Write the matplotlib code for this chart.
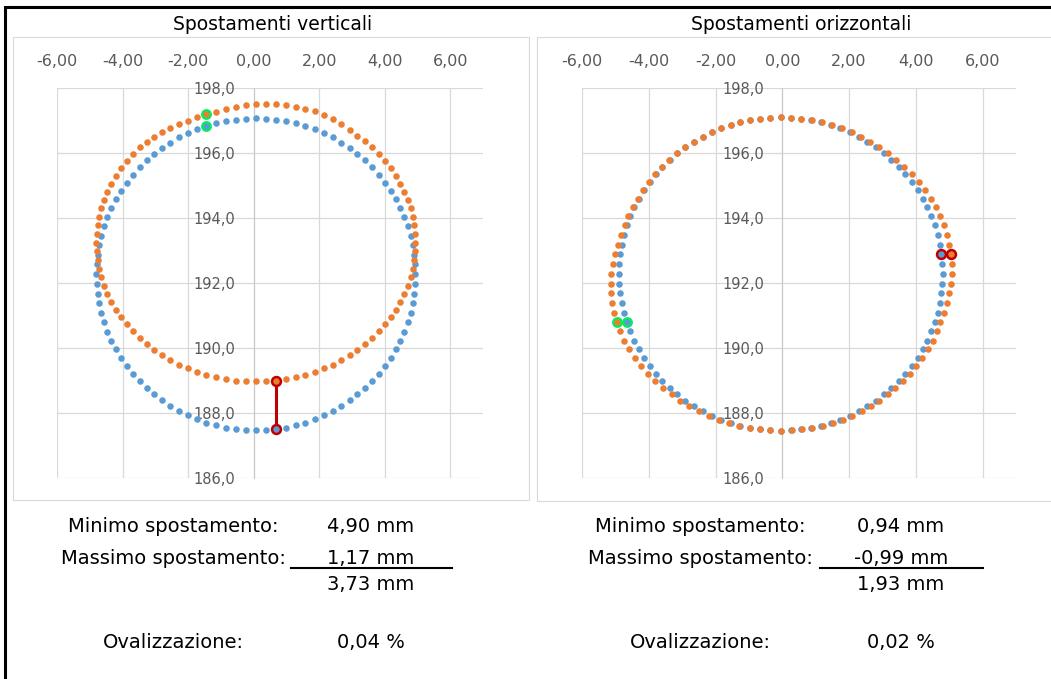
import matplotlib
matplotlib.use('Agg')
import matplotlib.pyplot as plt
from matplotlib.lines import Line2D
from matplotlib.patches import Rectangle

W, H = 1051, 679

# --- data ---
# vertical displacements: both series share x, orange moved along y
vert_x = [4.94, 4.93, 4.90, 4.85, 4.79, 4.70, 4.60, 4.48, 4.34, 4.18,
          4.01, 3.82, 3.62, 3.40, 3.17, 2.93, 2.68, 2.42, 2.14, 1.86,
          1.58, 1.28, 0.98, 0.68, 0.38, 0.07, -0.24, -0.54, -0.84, -1.14,
          -1.44, -1.72, -2.00, -2.28, -2.54, -2.79, -3.03, -3.26, -3.48, -3.68,
          -3.87, -4.04, -4.20, -4.34, -4.46, -4.56, -4.65, -4.71, -4.76, -4.79,
          -4.80, -4.79, -4.76, -4.71, -4.65, -4.56, -4.46, -4.34, -4.20, -4.04,
          -3.87, -3.68, -3.48, -3.26, -3.03, -2.79, -2.54, -2.28, -2.00, -1.72,
          -1.44, -1.14, -0.84, -0.54, -0.24, 0.07, 0.38, 0.68, 0.98, 1.28,
          1.58, 1.86, 2.14, 2.42, 2.68, 2.93, 3.17, 3.40, 3.62, 3.82,
          4.01, 4.18, 4.34, 4.48, 4.60, 4.70, 4.79, 4.85, 4.90, 4.93]
vert_y_blue = [192.27, 192.57, 192.87, 193.17, 193.46, 193.75, 194.04, 194.31, 194.58, 194.84,
               195.09, 195.33, 195.56, 195.77, 195.97, 196.15, 196.32, 196.48, 196.61, 196.73,
               196.84, 196.92, 196.99, 197.03, 197.06, 197.07, 197.06, 197.03, 196.99, 196.92,
               196.84, 196.73, 196.61, 196.48, 196.32, 196.15, 195.97, 195.77, 195.56, 195.33,
               195.09, 194.84, 194.58, 194.31, 194.04, 193.75, 193.46, 193.17, 192.87, 192.57,
               192.27, 191.97, 191.67, 191.37, 191.08, 190.79, 190.50, 190.23, 189.96, 189.70,
               189.45, 189.21, 188.98, 188.77, 188.57, 188.39, 188.22, 188.06, 187.93, 187.81,
               187.70, 187.62, 187.55, 187.51, 187.48, 187.47, 187.48, 187.51, 187.55, 187.62,
               187.70, 187.81, 187.93, 188.06, 188.22, 188.39, 188.57, 188.77, 188.98, 189.21,
               189.45, 189.70, 189.96, 190.23, 190.50, 190.79, 191.08, 191.37, 191.67, 191.97]
vert_y_orange = [193.24, 193.51, 193.78, 194.04, 194.30, 194.56, 194.81, 195.06, 195.30, 195.53,
                 195.75, 195.97, 196.17, 196.36, 196.53, 196.72, 196.89, 197.04, 197.17, 197.28,
                 197.36, 197.43, 197.48, 197.50, 197.51, 197.50, 197.47, 197.42, 197.35, 197.27,
                 197.19, 197.10, 197.00, 196.89, 196.77, 196.64, 196.50, 196.34, 196.17, 195.97,
                 195.75, 195.53, 195.30, 195.06, 194.81, 194.56, 194.30, 194.04, 193.78, 193.51,
                 193.24, 192.97, 192.70, 192.44, 192.18, 191.92, 191.67, 191.42, 191.18, 190.95,
                 190.73, 190.52, 190.31, 190.12, 189.95, 189.78, 189.63, 189.49, 189.37, 189.27,
                 189.17, 189.10, 189.04, 189.00, 188.97, 188.97, 188.97, 189.00, 189.04, 189.10,
                 189.17, 189.27, 189.37, 189.49, 189.63, 189.78, 189.95, 190.12, 190.31, 190.52,
                 190.73, 190.95, 191.18, 191.42, 191.67, 191.92, 192.18, 192.44, 192.70, 192.97]
vert_green = 30
vert_red = 77

# horizontal displacements: both series share y, orange moved along x
oriz_y = [192.28, 192.58, 192.88, 193.18, 193.48, 193.77, 194.05, 194.33, 194.60, 194.86,
          195.11, 195.35, 195.58, 195.79, 195.99, 196.18, 196.35, 196.50, 196.64, 196.76,
          196.86, 196.95, 197.02, 197.06, 197.09, 197.10, 197.09, 197.06, 197.02, 196.95,
          196.86, 196.76, 196.64, 196.50, 196.35, 196.18, 195.99, 195.79, 195.58, 195.35,
          195.11, 194.86, 194.60, 194.33, 194.05, 193.77, 193.48, 193.18, 192.88, 192.58,
          192.28, 191.98, 191.68, 191.38, 191.08, 190.79, 190.51, 190.23, 189.96, 189.70,
          189.45, 189.21, 188.98, 188.77, 188.57, 188.38, 188.21, 188.06, 187.92, 187.80,
          187.70, 187.61, 187.55, 187.50, 187.47, 187.46, 187.47, 187.50, 187.55, 187.61,
          187.70, 187.80, 187.92, 188.06, 188.21, 188.38, 188.57, 188.77, 188.98, 189.21,
          189.45, 189.70, 189.96, 190.23, 190.51, 190.79, 191.08, 191.38, 191.68, 191.98]
oriz_x_blue = [4.80, 4.79, 4.76, 4.71, 4.65, 4.56, 4.46, 4.34, 4.20, 4.05,
               3.87, 3.69, 3.49, 3.27, 3.04, 2.80, 2.55, 2.29, 2.02, 1.74,
               1.45, 1.16, 0.86, 0.56, 0.26, -0.05, -0.36, -0.66, -0.96, -1.26,
               -1.55, -1.84, -2.12, -2.39, -2.65, -2.90, -3.14, -3.37, -3.59, -3.79,
               -3.97, -4.15, -4.30, -4.44, -4.56, -4.66, -4.75, -4.81, -4.86, -4.89,
               -4.90, -4.89, -4.86, -4.81, -4.75, -4.66, -4.56, -4.44, -4.30, -4.15,
               -3.97, -3.79, -3.59, -3.37, -3.14, -2.90, -2.65, -2.39, -2.12, -1.84,
               -1.55, -1.26, -0.96, -0.66, -0.36, -0.05, 0.26, 0.56, 0.86, 1.16,
               1.45, 1.74, 2.02, 2.29, 2.55, 2.80, 3.04, 3.27, 3.49, 3.69,
               3.87, 4.05, 4.20, 4.34, 4.46, 4.56, 4.65, 4.71, 4.76, 4.79]
oriz_x_orange = [5.07, 5.07, 5.05, 5.00, 4.94, 4.84, 4.73, 4.60, 4.45, 4.28,
                 4.08, 3.88, 3.66, 3.42, 3.17, 2.91, 2.64, 2.37, 2.08, 1.79,
                 1.49, 1.19, 0.88, 0.57, 0.26, -0.05, -0.36, -0.66, -0.96, -1.26,
                 -1.55, -1.84, -2.12, -2.39, -2.65, -2.90, -3.15, -3.38, -3.60, -3.81,
                 -3.99, -4.18, -4.33, -4.48, -4.61, -4.72, -4.84, -4.93, -5.02, -5.08,
                 -5.13, -5.14, -5.13, -5.10, -5.05, -4.96, -4.86, -4.73, -4.58, -4.42,
                 -4.22, -4.02, -3.80, -3.56, -3.31, -3.05, -2.78, -2.50, -2.21, -1.91,
                 -1.60, -1.30, -0.98, -0.67, -0.36, -0.04, 0.28, 0.59, 0.90, 1.21,
                 1.51, 1.81, 2.10, 2.38, 2.65, 2.91, 3.16, 3.39, 3.62, 3.82,
                 4.01, 4.19, 4.35, 4.50, 4.62, 4.73, 4.83, 4.92, 4.99, 5.04]
oriz_green = 55
oriz_red = 2

titles = ['Spostamenti verticali', 'Spostamenti orizzontali']
x_ticks = [-6, -4, -2, 0, 2, 4, 6]
y_ticks = [186, 188, 190, 192, 194, 196, 198]
row_labels = ['Minimo spostamento:', 'Massimo spostamento:', '', 'Ovalizzazione:']
vert_values = ['4,90 mm', '1,17 mm', '3,73 mm', '0,04 %']
oriz_values = ['0,94 mm', '-0,99 mm', '1,93 mm', '0,02 %']

BLUE = '#5B9BD5'
ORANGE = '#ED7D31'
GREEN = '#00F05A'
RED = '#C00000'
GRID = '#D9D9D9'
TICK = '#595959'


def fx(px):
    return px / W


def fy(py):
    return 1 - py / H


def draw_panel(fig, left_px, width_px, xb, yb, xo, yo, g, r, red_line):
    ax = fig.add_axes([fx(left_px), fy(478), width_px / W, 390 / H])
    ax.patch.set_alpha(0)
    ax.set_xlim(-6, 7)
    ax.set_ylim(186, 198)
    ax.set_xticks(x_ticks)
    ax.set_xticklabels([f'{v:.2f}'.replace('.', ',') for v in x_ticks])
    ax.set_yticks(y_ticks)
    ax.set_yticklabels([f'{v:.1f}'.replace('.', ',') for v in y_ticks])
    ax.xaxis.tick_top()
    ax.tick_params(axis='x', length=0, pad=14, labelsize=11.5, labelcolor=TICK)
    ax.tick_params(axis='y', length=0, pad=13, labelsize=10.5, labelcolor=TICK)
    for s in ['top', 'right', 'bottom']:
        ax.spines[s].set_visible(False)
    ax.spines['left'].set_position(('data', 0))
    ax.spines['left'].set_color('#C8C8C8')
    ax.grid(True, color=GRID, lw=0.9)
    ax.set_axisbelow(True)

    ax.plot(xb, yb, 'o', ms=4.7, color=BLUE, mec='none', zorder=3)
    ax.plot(xo, yo, 'o', ms=4.7, color=ORANGE, mec='none', zorder=3)
    if red_line:
        ax.plot([xo[r], xb[r]], [yo[r], yb[r]], color=RED, lw=2.2, zorder=4)
    for xs, ys, c in ((xb, yb, BLUE), (xo, yo, ORANGE)):
        ax.plot(xs[g], ys[g], 'o', ms=6.2, mfc=c, mec=GREEN, mew=1.6, zorder=5)
        ax.plot(xs[r], ys[r], 'o', ms=6.4, mfc=c, mec=RED, mew=1.8, zorder=5)
    return ax


def draw_summary(fig, label_x, value_x, line_x0, line_x1, values):
    rows_y = [527, 559, 585, 643]
    for lab, val, py in zip(row_labels, values, rows_y):
        if lab:
            fig.text(fx(label_x), fy(py), lab, ha='center', va='center', fontsize=14)
        fig.text(fx(value_x), fy(py), val, ha='center', va='center', fontsize=14)
    fig.add_artist(Line2D([fx(line_x0), fx(line_x1)], [fy(568), fy(568)],
                          color='black', lw=1.5, transform=fig.transFigure))


fig = plt.figure(figsize=(W / 100, H / 100), dpi=100)
fig.patch.set_facecolor('white')

# chart area frames
fig.add_artist(Rectangle((fx(13), fy(500)), (529 - 13) / W, (500 - 37) / H,
                         transform=fig.transFigure, fill=False, ec=GRID, lw=0.8))
fig.add_artist(Rectangle((fx(537), fy(501)), (1070 - 537) / W, (501 - 37) / H,
                         transform=fig.transFigure, fill=False, ec=GRID, lw=0.8))
# outer black frame
fig.add_artist(Line2D([fx(5), fx(5), 1.0], [0.0, fy(7), fy(7)], color='black',
                      lw=2.2, solid_joinstyle='miter', transform=fig.transFigure))

fig.text(fx(273), fy(24), titles[0], ha='center', va='center', fontsize=13.5)
fig.text(fx(801), fy(24), titles[1], ha='center', va='center', fontsize=13.5)

draw_panel(fig, 57, 426, vert_x, vert_y_blue, vert_x, vert_y_orange,
           vert_green, vert_red, True)
draw_panel(fig, 582, 434, oriz_x_blue, oriz_y, oriz_x_orange, oriz_y,
           oriz_green, oriz_red, False)

draw_summary(fig, 173, 371, 291, 452, vert_values)
draw_summary(fig, 700, 901, 820, 983, oriz_values)

fig.savefig('out.png', dpi=100)
